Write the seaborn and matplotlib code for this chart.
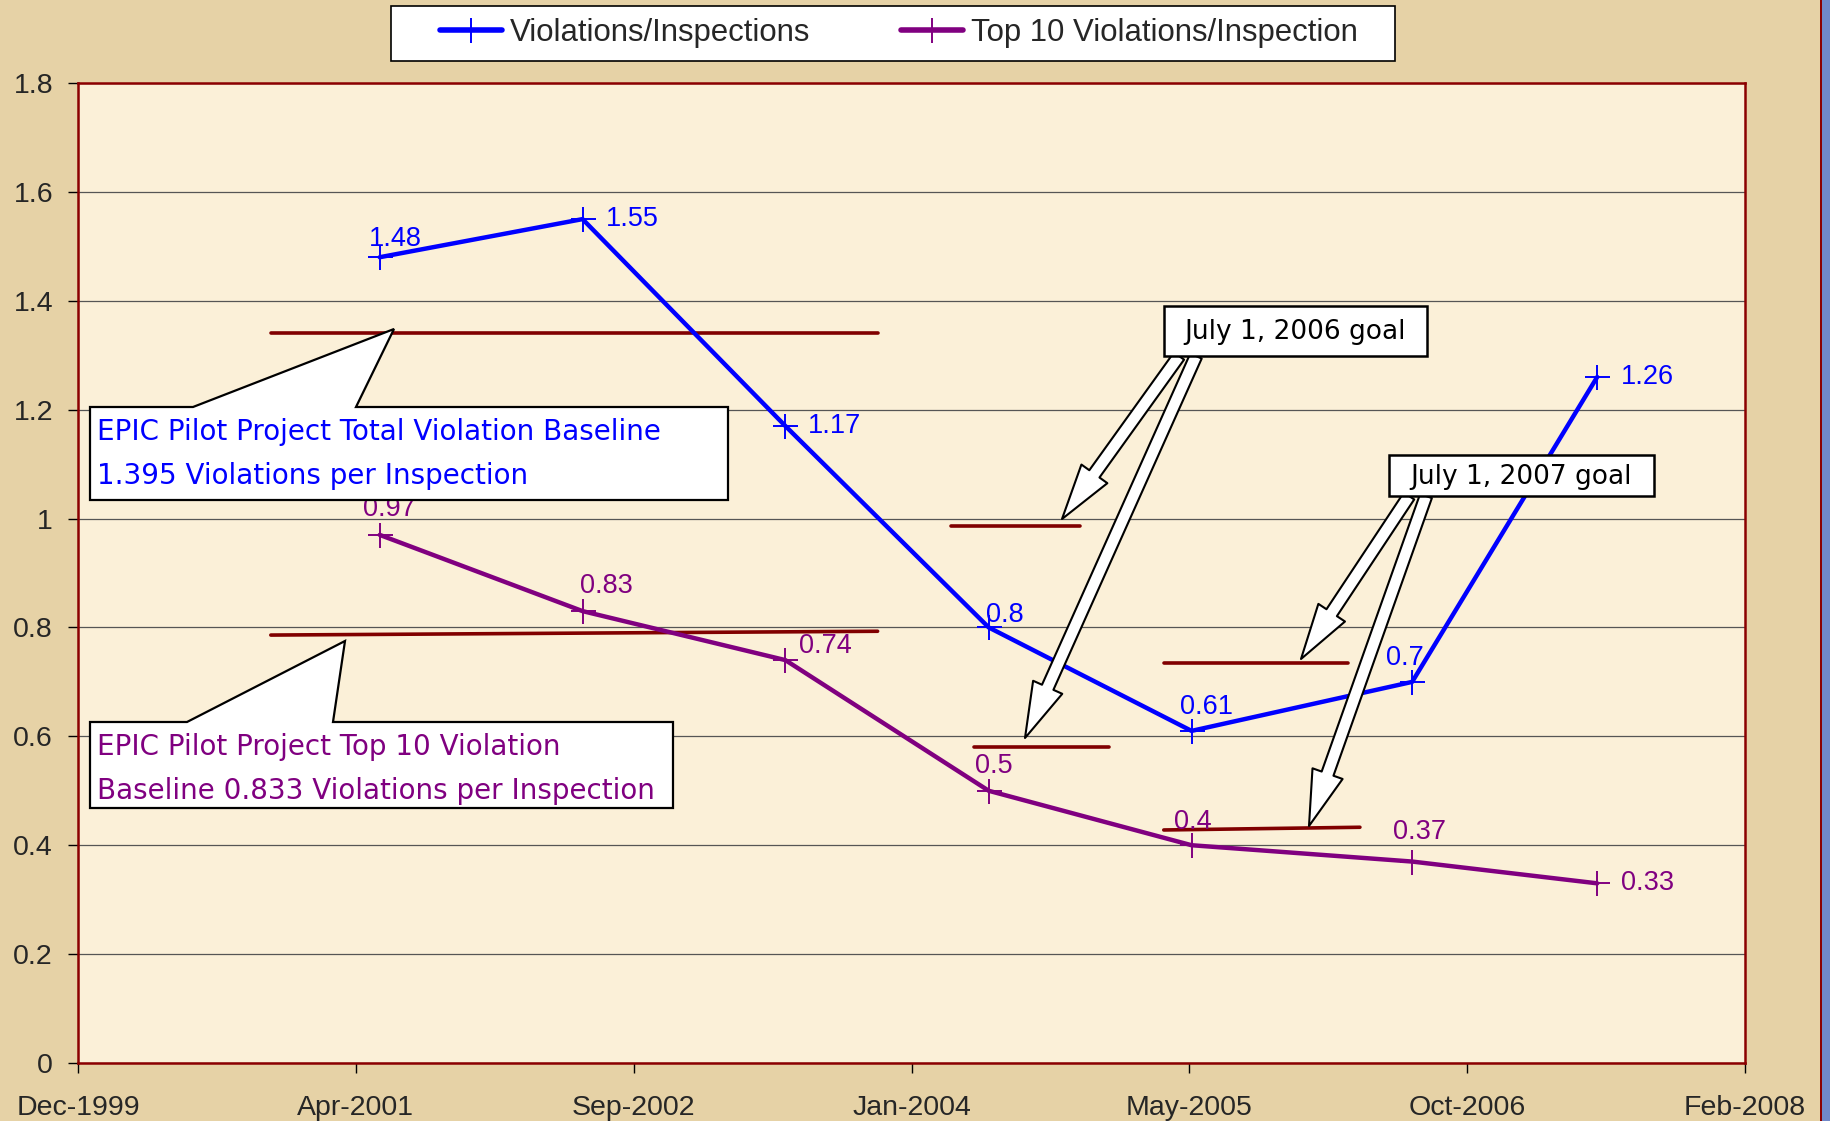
import matplotlib
matplotlib.use("Agg")
import matplotlib.pyplot as plt
import matplotlib.transforms as mtransforms
from matplotlib.patches import Polygon, Rectangle, FancyArrowPatch
from matplotlib.ticker import FixedLocator, FixedFormatter
import pandas as pd
import seaborn as sns

# data
dates = ["2001-06-01", "2002-06-01", "2003-06-01", "2004-06-01",
         "2005-06-01", "2006-07-03", "2007-06-01"]
total_vals = [1.48, 1.55, 1.17, 0.8, 0.61, 0.7, 1.26]
top10_vals = [0.97, 0.83, 0.74, 0.5, 0.4, 0.37, 0.33]

# baseline and goal segments (start, end, y at start, y at end)
seg_starts = ["2000-11-17", "2000-11-17", "2004-03-25", "2004-05-06", "2005-04-12", "2005-04-12"]
seg_ends = ["2003-11-14", "2003-11-14", "2004-11-12", "2005-01-03", "2006-03-10", "2006-03-31"]
seg_y0 = [1.34, 0.786, 0.986, 0.581, 0.735, 0.428]
seg_y1 = [1.34, 0.793, 0.986, 0.581, 0.735, 0.433]

x_min, x_max = "1999-12-06", "2008-02-22"
x_tick_labels = ["Dec-1999", "Apr-2001", "Sep-2002", "Jan-2004", "May-2005", "Oct-2006", "Feb-2008"]
y_ticks = [0, 0.2, 0.4, 0.6, 0.8, 1.0, 1.2, 1.4, 1.6, 1.8]
y_tick_labels = ["0", "0.2", "0.4", "0.6", "0.8", "1", "1.2", "1.4", "1.6", "1.8"]

series_names = ["Violations/Inspections", "Top 10 Violations/Inspection"]
series_colors = ["#0000FF", "#800080"]

# label offsets in points (dx, dy, ha)
total_lab = [(11, 13, "center"), (17, 0, "left"), (16, 0, "left"), (-2, 9, "left"),
             (11, 17, "center"), (-5, 17, "center"), (17, 0, "left")]
top10_lab = [(7, 19, "center"), (17, 18, "center"), (10, 10, "left"), (4, 18, "center"),
             (1, 17, "center"), (5, 21, "center"), (17, 0, "left")]

W, H = 1830, 1121
sns.set_style("ticks")
plt.rcParams["font.family"] = ["Liberation Sans", "DejaVu Sans"]

fig = plt.figure(figsize=(W / 100, H / 100), dpi=100)
fig.patch.set_facecolor("#E6D2A6")
ax = fig.add_axes([78 / W, 1 - 1063 / H, (1745 - 78) / W, (1063 - 83) / H])
ax.set_facecolor("#FBF0D8")

px = mtransforms.Affine2D().scale(1 / W, -1 / H).translate(0, 1) + fig.transFigure

df = pd.DataFrame({"Date": pd.to_datetime(dates), "Total": total_vals, "Top10": top10_vals})

for col, name, color in zip(["Total", "Top10"], series_names, series_colors):
    sns.lineplot(data=df, x="Date", y=col, ax=ax, color=color, linewidth=3.2,
                 marker="+", markersize=18, markeredgewidth=1.4,
                 markeredgecolor=color, label=name, zorder=3)

for s, e, y0, y1 in zip(seg_starts, seg_ends, seg_y0, seg_y1):
    ax.plot(pd.to_datetime([s, e]), [y0, y1], color="#800000", linewidth=2.6, zorder=2.5)

for vals, labs, color in [(total_vals, total_lab, series_colors[0]),
                          (top10_vals, top10_lab, series_colors[1])]:
    for d, v, (dx, dy, ha) in zip(df["Date"], vals, labs):
        ax.annotate(f"{v:g}", (d, v), xytext=(dx, dy), textcoords="offset points",
                    ha=ha, va="center", color=color, fontsize=19.5, zorder=4)

# axes styling
ax.set_xlim(pd.Timestamp(x_min), pd.Timestamp(x_max))
ax.set_ylim(0, 1.8)
x_ticks = pd.date_range(x_min, periods=len(x_tick_labels), freq="500D")
ax.xaxis.set_major_locator(FixedLocator(matplotlib.dates.date2num(x_ticks)))
ax.xaxis.set_major_formatter(FixedFormatter(x_tick_labels))
ax.yaxis.set_major_locator(FixedLocator(y_ticks))
ax.yaxis.set_major_formatter(FixedFormatter(y_tick_labels))
ax.tick_params(axis="both", labelsize=20.5, length=7, width=1, color="black",
               direction="out")
ax.tick_params(axis="x", pad=16)
ax.tick_params(axis="y", pad=11)
ax.set_xlabel("")
ax.set_ylabel("")
ax.grid(axis="y", color="#555555", linewidth=0.9)
ax.set_axisbelow(True)
for sp in ax.spines.values():
    sp.set_color("#8B0000")
    sp.set_linewidth(1.8)

# legend: white box drawn separately so its padding matches the original
fig.add_artist(Rectangle((391, 6), 1004, 55, transform=px, facecolor="white",
                         edgecolor="black", linewidth=1.2, zorder=3))
handles, labels = ax.get_legend_handles_labels()
leg = ax.legend(handles, labels, loc="center", bbox_to_anchor=(899 / W, 1 - 33 / H),
                bbox_transform=fig.transFigure, ncol=2, fontsize=22.4, frameon=False,
                handlelength=2.0, columnspacing=2.9, handletextpad=0.25)
for line in leg.get_lines():
    line.set_linewidth(4)
leg.set_zorder(10)
fig.add_artist(leg)

# callouts
callout_font = ["DejaVu Sans"]
box1 = [(90, 407), (193, 407), (394, 329), (356, 407), (728, 407), (728, 500), (90, 500)]
box2 = [(90, 722), (187, 722), (345, 641), (333, 722), (673, 722), (673, 808), (90, 808)]
for pts in (box1, box2):
    fig.add_artist(Polygon(pts, closed=True, transform=px, facecolor="white",
                           edgecolor="black", linewidth=1.6, zorder=5))
fig.text(97, 432, "EPIC Pilot Project Total Violation Baseline", transform=px,
         color=series_colors[0], fontsize=20, va="center", family=callout_font, zorder=6)
fig.text(97, 476, "1.395 Violations per Inspection", transform=px,
         color=series_colors[0], fontsize=20, va="center", family=callout_font, zorder=6)
fig.text(97, 747, "EPIC Pilot Project Top 10 Violation", transform=px,
         color=series_colors[1], fontsize=20, va="center", family=callout_font, zorder=6)
fig.text(97, 791, "Baseline 0.833 Violations per Inspection", transform=px,
         color=series_colors[1], fontsize=20, va="center", family=callout_font, zorder=6)

arrows = [((1179, 356), (1062, 519)), ((1196, 356), (1025, 738)),
          ((1409, 496), (1301, 659)), ((1426, 496), (1309, 826))]
for a, b in arrows:
    fig.add_artist(FancyArrowPatch(a, b, transform=px, shrinkA=0, shrinkB=0,
                                   arrowstyle="simple,head_length=2.0,head_width=1.15,tail_width=0.45",
                                   mutation_scale=20, facecolor="white", edgecolor="black",
                                   linewidth=1.5, zorder=5))

for (x0, y0, x1, y1), txt in [((1164, 306, 1427, 356), "July 1, 2006 goal"),
                              ((1389, 455, 1654, 496), "July 1, 2007 goal")]:
    fig.add_artist(Rectangle((x0, y0), x1 - x0, y1 - y0, transform=px, facecolor="white",
                             edgecolor="black", linewidth=1.8, zorder=7))
    fig.text((x0 + x1) / 2, (y0 + y1) / 2 + 1, txt, transform=px, ha="center", va="center",
             fontsize=19, family=callout_font, color="black", zorder=8)

# slide edge on the right
fig.add_artist(Rectangle((1821, 0), 9, H, transform=px, facecolor="#7088C8",
                         edgecolor="none", zorder=1))
fig.add_artist(Rectangle((1820, 0), 2, H, transform=px, facecolor="#8B0000",
                         edgecolor="none", zorder=1))

fig.savefig("out.png", dpi=100, facecolor=fig.get_facecolor())
